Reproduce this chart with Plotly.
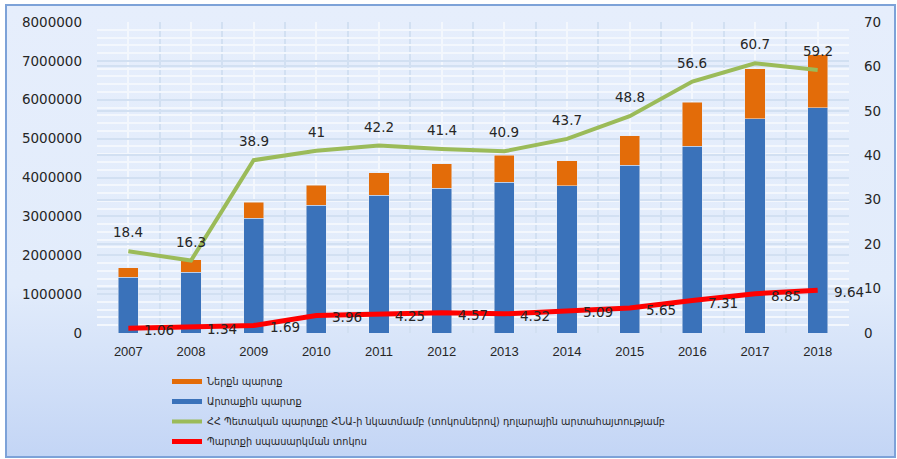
import plotly.graph_objects as go

years = [2007, 2008, 2009, 2010, 2011, 2012, 2013, 2014, 2015, 2016, 2017, 2018]
external_debt = [1436000, 1565000, 2947000, 3283000, 3549000, 3721000, 3876000, 3790000, 4314000, 4804000, 5517000, 5793000]
domestic_debt = [247000, 317000, 413000, 524000, 576000, 636000, 696000, 644000, 765000, 1134000, 1281000, 1366000]
debt_to_gdp = [18.4, 16.3, 38.9, 41, 42.2, 41.4, 40.9, 43.7, 48.8, 56.6, 60.7, 59.2]
service_ratio = [1.06, 1.34, 1.69, 3.96, 4.25, 4.57, 4.32, 5.09, 5.65, 7.31, 8.85, 9.64]

name_dom = "Ներքն պարտք"
name_ext = "Արտաքին պարտք"
name_gdp = "ՀՀ Պետական պարտքը ՀՆԱ-ի նկատմամբ (տոկոսներով) դոլարային արտահայտությամբ"
name_srv = "Պարտքի սպասարկման տոկոս"

W, H = 897, 459
ML, MR, MT, MB = 97, 48, 22, 126
PW, PH = W - ML - MR, H - MT - MB

def px(x):
    return (x - ML) / PW

def py(y):
    return (H - MB - y) / PH

C_BLUE = "#3A72BA"
C_ORANGE = "#E36C09"
C_GREEN = "#9BBB59"
C_RED = "#FF0000"
TXT = "#262626"

fig = go.Figure()

# legend-only entries (line style as in reference)
fig.add_trace(go.Scatter(x=[None], y=[None], mode="lines", name=name_dom, legendgroup="a",
                         line=dict(color=C_ORANGE, width=5), legendrank=1))
fig.add_trace(go.Scatter(x=[None], y=[None], mode="lines", name=name_ext, legendgroup="b",
                         line=dict(color=C_BLUE, width=5), legendrank=2))

fig.add_trace(go.Bar(x=years, y=external_debt, name=name_ext, marker_color=C_BLUE,
                     width=0.32, showlegend=False))
fig.add_trace(go.Bar(x=years, y=domestic_debt, name=name_dom, marker_color=C_ORANGE,
                     width=0.32, showlegend=False))
fig.add_trace(go.Scatter(x=years, y=debt_to_gdp, name=name_gdp, mode="lines", yaxis="y2",
                         legendgroup="c", line=dict(color=C_GREEN, width=4), legendrank=3))
fig.add_trace(go.Scatter(x=years, y=service_ratio, name=name_srv, mode="lines", yaxis="y2",
                         legendgroup="d", line=dict(color=C_RED, width=5), legendrank=4))

annotations = []
for x, v in zip(years, debt_to_gdp):
    annotations.append(dict(x=x, y=v, xref="x", yref="y2", text=f"{v:g}", showarrow=False,
                            yshift=19, font=dict(family="DejaVu Sans", size=13.5, color=TXT)))
for x, v in zip(years, service_ratio):
    annotations.append(dict(x=x, y=v, xref="x", yref="y2", text=f"{v:g}", showarrow=False,
                            xanchor="left", xshift=14, yshift=-2,
                            font=dict(family="DejaVu Sans", size=13.5, color=TXT)))

grad_svg = (
    "data:image/svg+xml;utf8,"
    "<svg xmlns='http://www.w3.org/2000/svg' width='100' height='100' preserveAspectRatio='none'>"
    "<defs><linearGradient id='g' x1='0' y1='0' x2='0' y2='1'>"
    "<stop offset='0' stop-color='%23E6EEFC'/>"
    "<stop offset='0.62' stop-color='%23E2ECFB'/>"
    "<stop offset='1' stop-color='%23C3D5F5'/>"
    "</linearGradient></defs>"
    "<rect width='100' height='100' fill='url(%23g)'/></svg>"
)

bx0, bx1, by0, by1 = 6, 895, 5, 457

fig.update_layout(
    width=W, height=H,
    margin=dict(l=ML, r=MR, t=MT, b=MB, autoexpand=False),
    paper_bgcolor="white",
    plot_bgcolor="rgba(0,0,0,0)",
    barmode="stack",
    images=[dict(source=grad_svg, xref="paper", yref="paper",
                 x=px(bx0), y=py(by0), sizex=px(bx1) - px(bx0), sizey=py(by0) - py(by1),
                 xanchor="left", yanchor="top", sizing="stretch", layer="below")],
    shapes=[dict(type="rect", xref="paper", yref="paper",
                 x0=px(bx0), x1=px(bx1), y0=py(by1), y1=py(by0),
                 line=dict(color="#7DA2D8", width=2), layer="above")],
    xaxis=dict(
        range=[years[0] - 0.5, years[-1] + 0.5],
        tickmode="array", tickvals=years, ticktext=[str(y) for y in years],
        showgrid=True, gridcolor="#F3F7FD", gridwidth=1.5,
        minor=dict(tickmode="array", tickvals=[y - 0.5 for y in years] + [years[-1] + 0.5],
                   showgrid=True, gridcolor="#D2E0F2", gridwidth=1.5, ticks=""),
        ticks="", showline=False, zeroline=False,
        tickfont=dict(family="Liberation Sans", size=13, color=TXT),
        ticklabelstandoff=9,
    ),
    yaxis=dict(
        range=[0, 8000000], dtick=1000000, tickformat="d",
        showgrid=True, gridcolor="#D2E0F2", gridwidth=1.5,
        minor=dict(dtick=200000, showgrid=True, gridcolor="#F3F7FD", gridwidth=1.5),
        zeroline=False, showline=False, ticks="",
        tickfont=dict(family="DejaVu Sans", size=13.5, color=TXT),
        ticklabelstandoff=14,
    ),
    yaxis2=dict(
        range=[0, 70], dtick=10, overlaying="y", side="right",
        showgrid=True, gridcolor="#D2E0F2", gridwidth=1.5,
        zeroline=False, showline=False, ticks="",
        tickfont=dict(family="DejaVu Sans", size=13.5, color=TXT),
        ticklabelstandoff=14,
    ),
    legend=dict(
        x=px(167), y=py(367), xanchor="left", yanchor="top",
        bgcolor="rgba(0,0,0,0)", traceorder="grouped",
        font=dict(family="DejaVu Sans", size=9.7, color=TXT),
        itemwidth=30, tracegroupgap=1,
    ),
    annotations=annotations,
    showlegend=True,
)

fig.write_html("out.html")
